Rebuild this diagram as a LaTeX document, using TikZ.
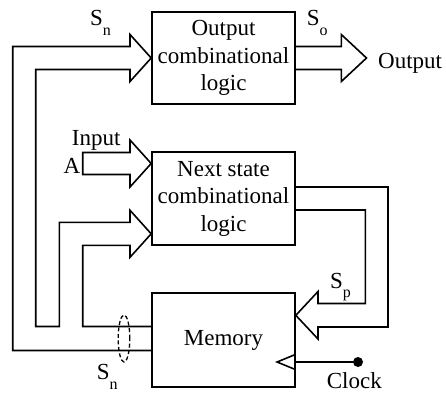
\documentclass[tikz,border=0pt]{standalone}
\usepackage{fontspec}
\setmainfont{Liberation Serif}
\usepackage{tikz}
\usetikzlibrary{calc}
\newcommand{\fsz}{\fontsize{23}{27.5}\selectfont}
\newcommand{\sig}[1]{S\raisebox{-9.5pt}{\fontsize{16}{16}\selectfont #1}}
\tikzset{
  blk/.style={draw,line width=1.6pt,minimum width=143pt,minimum height=#1,align=center,inner sep=0pt,font=\fsz},
  bus/.style={line width=1.6pt,line join=miter},
  lbl/.style={inner sep=0pt,font=\fsz},
}

\begin{document}
\begin{tikzpicture}[x=1pt,y=-1pt]
  \useasboundingbox (0,0) rectangle (446,392);
  \node[blk=92pt] (outlogic) at (223.5,58) {Output\\combinational\\logic};
  \node[blk=93pt] (nextlogic) at (223.5,198.5) {Next state\\combinational\\logic};
  \node[blk=94pt] (memory) at (223.5,340) {Memory};
  \coordinate (tipA) at ($(nextlogic.west)+(0,-35)$);
  \coordinate (tipB) at ($(nextlogic.west)+(0,35.3)$);
  \coordinate (tipP) at ($(memory.east)+(0,-24.7)$);
  \coordinate (outtip) at ($(outlogic.east)+(70.7,0)$);
  \draw[bus] ($(memory.west)+(0,10.5)$) -| (12.7,46.5) -- (130,46.5) -- (130,34.5) -- (outlogic.west)
    -- (130,81.5) -- (130,69.5) -| (35.7,326.5) -| (59.3,222.3) -- (130,222.3) -- (130,210.3) -- (tipB)
    -- (130,257.3) -- (130,245.3) -| (82.7,326.5) -- ($(memory.west)+(0,-13.5)$);
  \draw[bus] (82.7,152.5) -- (130,152.5) -- (130,140) -- (tipA) -- (130,187) -- (130,174.5) -- (82.7,174.5) -- cycle;
  \draw[bus] ($(outlogic.east)+(0,-11.5)$) -- (341.3,46.5) -- (341.3,34.5) -- (outtip) -- (341.3,81.5)
    -- (341.3,69.5) -- ($(outlogic.east)+(0,11.5)$);
  \draw[bus] ($(nextlogic.east)+(0,-11.5)$) -| (388,327) -- (318,327) -- (318,339) -- (tipP) -- (318,291.5)
    -- (318,303.5) -| (365.3,210) -- ($(nextlogic.east)+(0,11.5)$);
  \node[circle,fill,inner sep=0pt,minimum size=10pt] (clk) at (358,362) {};
  \draw[bus] (clk) -- (memory.east |- clk);
  \draw[bus] ($(memory.east |- clk)+(0,-7.7)$) -- ++(-18.7,7.7) -- ++(18.7,7.7);
  \draw[line width=1.3pt,dash pattern=on 4pt off 2.5pt] (124,338.5) ellipse [x radius=5.8pt,y radius=23.5pt];
  \node[lbl,anchor=base west] (sntop) at (90,25.7) {\sig{n}};
  \node[lbl,anchor=base west] (so) at (306.7,25.7) {\sig{o}};
  \node[lbl,anchor=base west] (sp) at (330,288.3) {\sig{p}};
  \node[lbl,anchor=base west] (snbot) at (96.7,379.5) {\sig{n}};
  \node[lbl,anchor=base west] (outlbl) at (378,68.3) {Output};
  \node[lbl,anchor=base west] (inlbl) at (71.7,145) {Input};
  \node[lbl,anchor=base west] (albl) at (63.3,173.3) {A};
  \node[lbl,anchor=base west] (clklbl) at (326.7,388.5) {Clock};
\end{tikzpicture}
\end{document}
